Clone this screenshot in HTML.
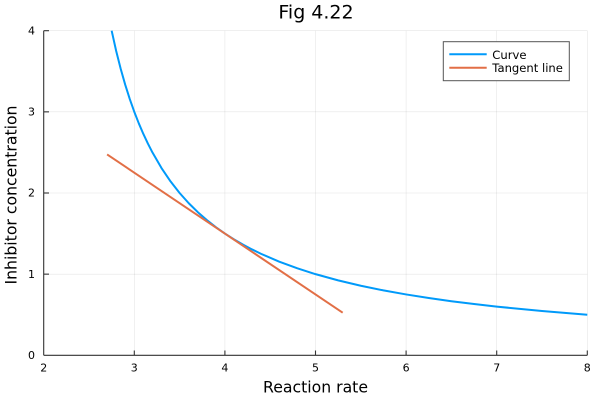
<!DOCTYPE html>
<html><head><meta charset="utf-8"><style>
html,body{margin:0;padding:0;background:#fff;}
svg{display:block;font-family:"DejaVu Sans","Liberation Sans",sans-serif;}
</style></head><body>
<svg width="600" height="400" viewBox="0 0 600 400" xmlns="http://www.w3.org/2000/svg">
<rect width="600" height="400" fill="#fff"/>
<!-- grid -->
<g stroke="#000" stroke-opacity="0.1" stroke-width="0.6">
<line x1="134.3" y1="30.7" x2="134.3" y2="355.3"/>
<line x1="224.9" y1="30.7" x2="224.9" y2="355.3"/>
<line x1="315.5" y1="30.7" x2="315.5" y2="355.3"/>
<line x1="406.1" y1="30.7" x2="406.1" y2="355.3"/>
<line x1="496.7" y1="30.7" x2="496.7" y2="355.3"/>
<line x1="587.3" y1="30.7" x2="587.3" y2="355.3"/>
<line x1="43.7" y1="274.15" x2="587.3" y2="274.15"/>
<line x1="43.7" y1="193.0" x2="587.3" y2="193.0"/>
<line x1="43.7" y1="111.85" x2="587.3" y2="111.85"/>
<line x1="43.7" y1="30.7" x2="587.3" y2="30.7"/>
</g>
<!-- axes -->
<g stroke="#333" stroke-width="1.1">
<line x1="43.7" y1="355.3" x2="587.3" y2="355.3"/>
<line x1="43.7" y1="30.7" x2="43.7" y2="355.3"/>
<line x1="134.3" y1="355.3" x2="134.3" y2="350.5"/>
<line x1="224.9" y1="355.3" x2="224.9" y2="350.5"/>
<line x1="315.5" y1="355.3" x2="315.5" y2="350.5"/>
<line x1="406.1" y1="355.3" x2="406.1" y2="350.5"/>
<line x1="496.7" y1="355.3" x2="496.7" y2="350.5"/>
<line x1="587.3" y1="355.3" x2="587.3" y2="350.5"/>
<line x1="43.7" y1="274.15" x2="49" y2="274.15"/>
<line x1="43.7" y1="193.0" x2="49" y2="193.0"/>
<line x1="43.7" y1="111.85" x2="49" y2="111.85"/>
<line x1="43.7" y1="30.7" x2="49" y2="30.7"/>
</g>
<!-- tick labels -->
<g font-size="11" fill="#000" text-anchor="middle">
<text x="43.7" y="371.3">2</text>
<text x="134.3" y="371.3">3</text>
<text x="224.9" y="371.3">4</text>
<text x="315.5" y="371.3">5</text>
<text x="406.1" y="371.3">6</text>
<text x="496.7" y="371.3">7</text>
<text x="587.3" y="371.3">8</text>
</g>
<g font-size="11" fill="#000" text-anchor="end">
<text x="35" y="359">0</text>
<text x="35" y="277.85">1</text>
<text x="35" y="196.7">2</text>
<text x="35" y="115.55">3</text>
<text x="35" y="34.4">4</text>
</g>
<!-- series -->
<g transform="translate(43.7,355.3) scale(90.6,-81.15) translate(-2,0)" fill="none" stroke-width="2" stroke-linejoin="round">
<polyline vector-effect="non-scaling-stroke" stroke="#009AFA" points="2.75,4 2.8,3.75 2.85,3.5294 2.9,3.3333 2.95,3.1579 3.0,3 3.05,2.8571 3.1,2.7273 3.15,2.6087 3.2,2.5 3.3,2.3077 3.4,2.1429 3.5,2 3.6,1.875 3.7,1.7647 3.8,1.6667 3.9,1.5789 4.0,1.5 4.1,1.4286 4.2,1.3636 4.3,1.3043 4.4,1.25 4.6,1.1538 4.8,1.0714 5.0,1 5.25,0.9231 5.5,0.8571 5.75,0.8 6.0,0.75 6.25,0.7059 6.5,0.6667 6.75,0.6316 7.0,0.6 7.5,0.5455 8.0,0.5"/>
<polyline vector-effect="non-scaling-stroke" stroke="#E26F46" points="2.7,2.475 5.3,0.525"/>
</g>
<!-- legend -->
<rect x="443.3" y="41.7" width="126" height="39" fill="#fff" stroke="#555" stroke-width="1"/>
<line x1="449.3" y1="54.3" x2="486.7" y2="54.3" stroke="#009AFA" stroke-width="2"/>
<line x1="449.3" y1="67.7" x2="486.7" y2="67.7" stroke="#E26F46" stroke-width="2"/>
<g font-size="11.6" fill="#000">
<text x="492.3" y="58.8">Curve</text>
<text x="492.3" y="72.1">Tangent line</text>
</g>
<!-- labels -->
<text x="316" y="18.3" font-size="19" text-anchor="middle" fill="#000">Fig 4.22</text>
<text x="315.5" y="392.3" font-size="15.7" text-anchor="middle" fill="#000">Reaction rate</text>
<text transform="translate(16.5,195) rotate(-90)" x="0" y="0" font-size="15.7" text-anchor="middle" fill="#000">Inhibitor concentration</text>
</svg>
</body></html>
